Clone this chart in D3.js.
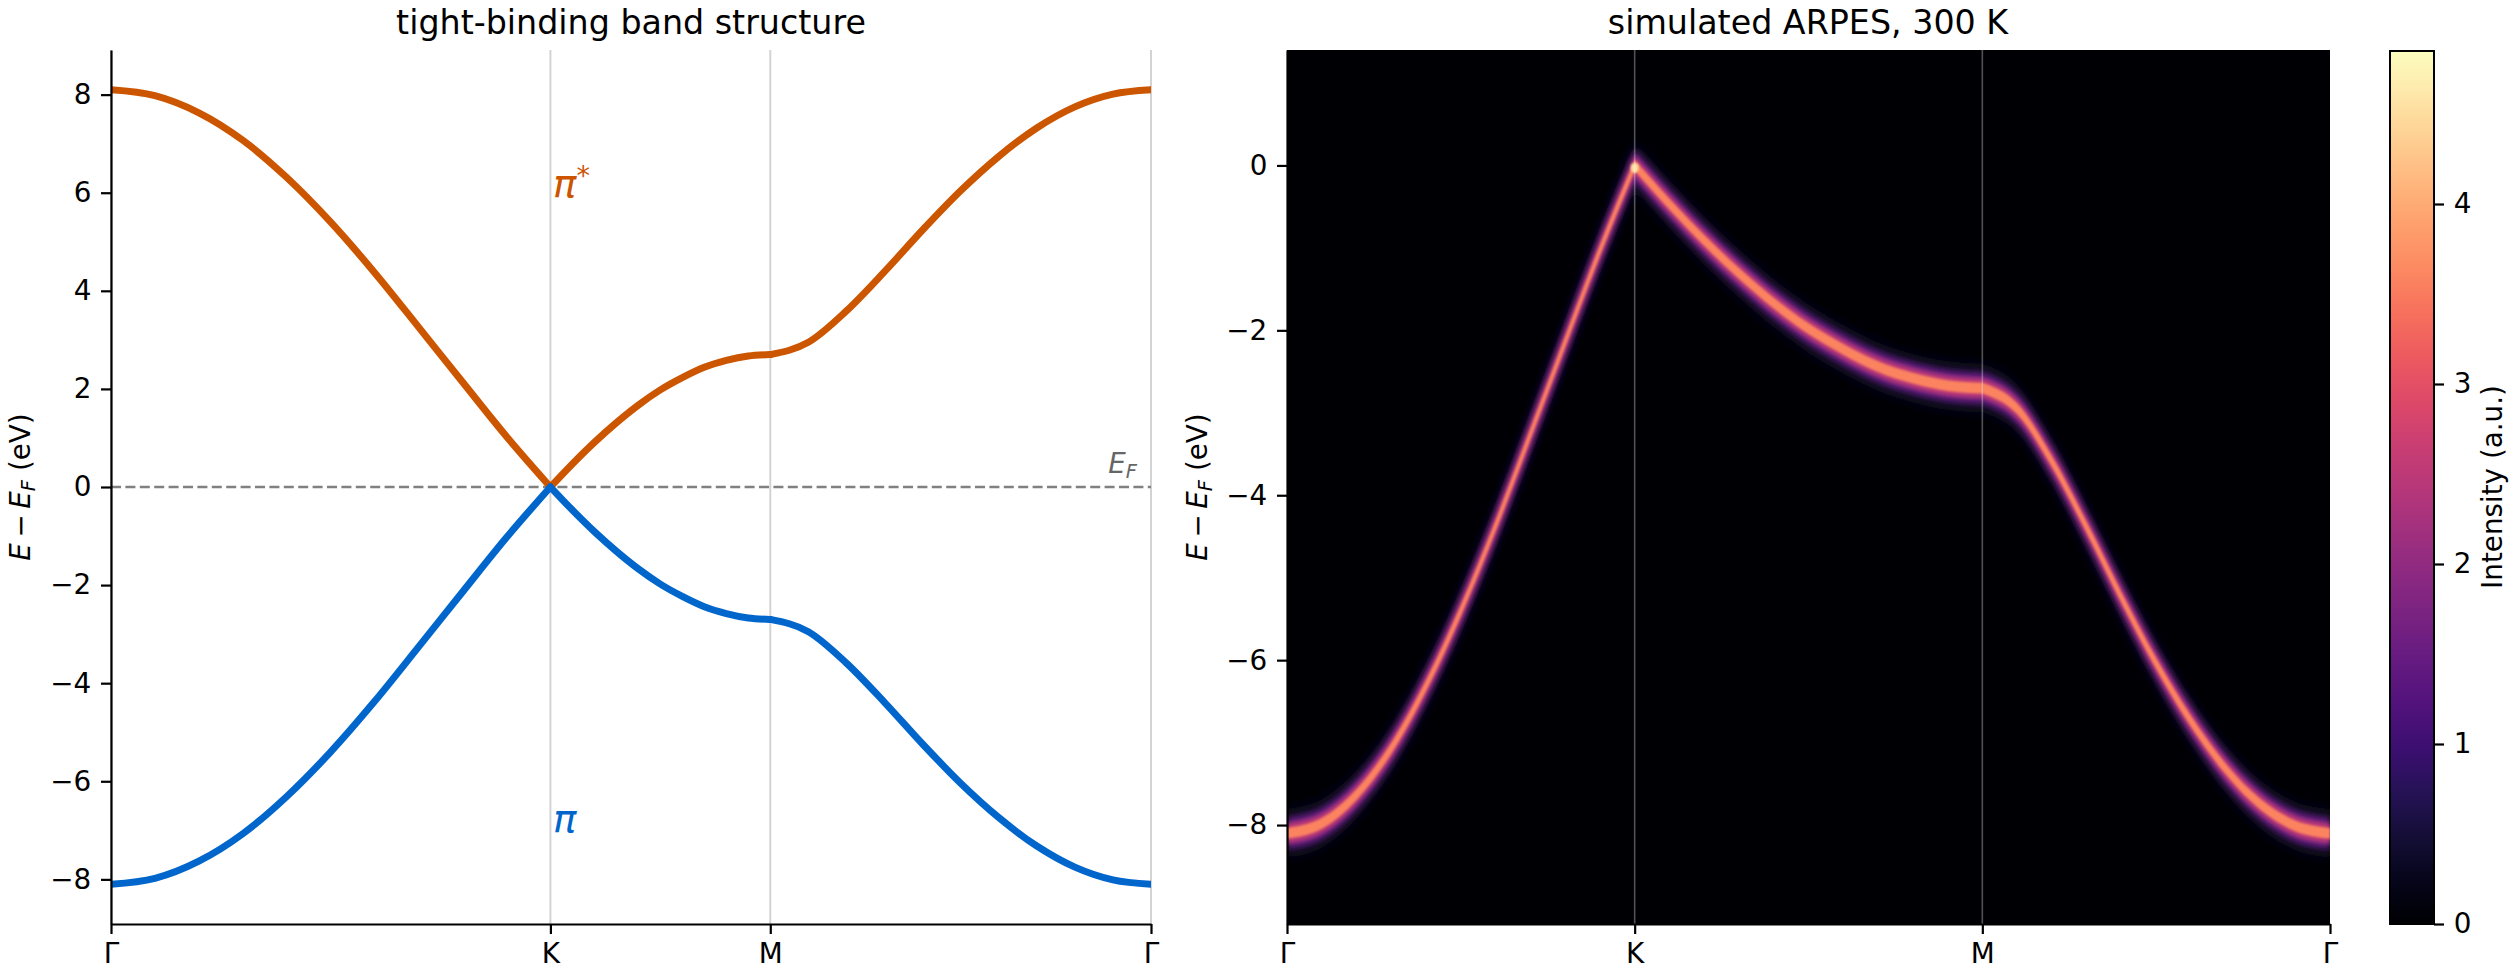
<!DOCTYPE html>
<html>
<head>
<meta charset="utf-8">
<script src="https://cdn.jsdelivr.net/npm/d3@7"></script>
<style>
  body { margin: 0; background: #fff; }
  svg { display: block; font-family: "DejaVu Sans", sans-serif; }
</style>
</head>
<body>
<svg id="fig" width="2520" height="980"></svg>
<script>
const kFrac = [0, 0.1, 0.2, 0.3, 0.4, 0.5, 0.6, 0.7, 0.8, 0.9, 1];
// |E| (eV) of the pi / pi* bands on each leg
const bandGK = [8.10, 7.98, 7.63, 7.07, 6.31, 5.40, 4.37, 3.26, 2.14, 1.03, 0.00];
const bandKM = [0.00, 0.47, 0.91, 1.31, 1.67, 1.98, 2.23, 2.44, 2.58, 2.67, 2.70];
const bandMG = [2.70, 2.95, 3.59, 4.39, 5.24, 6.04, 6.74, 7.32, 7.75, 8.01, 8.10];
// path length of each leg (Γ-K, K-M, M-Γ) for the left panel
const legLength = [1.333, 0.667, 1.155];
const symLabels = ["Γ", "K", "M", "Γ"];
const bandTicks = [-8, -6, -4, -2, 0, 2, 4, 6, 8];
const arpesTicks = [-8, -6, -4, -2, 0];
const cbarTicks = [0, 1, 2, 3, 4];
const cbarMax = 4.85;

const FS = 27.8; // 10pt
const svg = d3.select("#fig");
const legs = [bandGK, bandKM, bandMG];

// ---------- left panel: band structure ----------
const symPos = [0];
legLength.forEach((l, i) => symPos.push(symPos[i] + l));

const xL = d3.scaleLinear().domain([0, symPos[3]]).range([111, 1151]);
const yL = d3.scaleLinear().domain([-8.91, 8.91]).range([924, 50]);

const left = svg.append("g");
left.append("clipPath").attr("id", "clipL")
  .append("rect").attr("x", 111).attr("y", 50).attr("width", 1040).attr("height", 874);

left.selectAll("line.vl").data(symPos).enter().append("line")
  .attr("x1", d => xL(d)).attr("x2", d => xL(d))
  .attr("y1", 50).attr("y2", 924)
  .attr("stroke", "#d3d3d3").attr("stroke-width", 2);

left.append("line")
  .attr("x1", xL(0)).attr("x2", xL(symPos[3]))
  .attr("y1", yL(0)).attr("y2", yL(0))
  .attr("stroke", "#808080").attr("stroke-width", 2.6)
  .attr("stroke-dasharray", "10,4.4");

const lineL = d3.line().x(d => xL(d.k)).y(d => yL(d.e)).curve(d3.curveMonotoneX);
const legPts = (i, sign) => kFrac.map((f, j) => ({ k: symPos[i] + f * legLength[i], e: sign * legs[i][j] }));

[[1, "#cc5500"], [-1, "#0066cc"]].forEach(([sign, col]) => {
  legs.forEach((_, i) => {
    left.append("path")
      .attr("clip-path", "url(#clipL)")
      .attr("d", lineL(legPts(i, sign)))
      .attr("fill", "none").attr("stroke", col)
      .attr("stroke-width", 7).attr("stroke-linecap", "round").attr("stroke-linejoin", "round");
  });
});

const axL = left.append("g").attr("transform", "translate(111,0)")
  .call(d3.axisLeft(yL).tickValues(bandTicks).tickSize(10).tickSizeOuter(0).tickPadding(9.7).tickFormat(d3.format("d")));
const axLB = left.append("g").attr("transform", "translate(0,924)")
  .call(d3.axisBottom(xL).tickValues(symPos).tickSize(10).tickSizeOuter(0).tickPadding(9.7).tickFormat((d, i) => symLabels[i]));

// band labels
const piStar = left.append("text").attr("x", 553).attr("y", 197)
  .attr("font-size", 38.9).attr("fill", "#cc5500");
piStar.append("tspan").attr("font-style", "italic").text("π");
piStar.append("tspan").attr("font-size", 27).attr("dy", -12).text("*");
left.append("text").attr("x", 553).attr("y", 832)
  .attr("font-size", 38.9).attr("fill", "#0066cc").attr("font-style", "italic").text("π");

const ef = left.append("text").attr("x", 1137).attr("y", 473)
  .attr("text-anchor", "end").attr("font-size", FS).attr("fill", "#666");
ef.append("tspan").attr("font-style", "italic").text("E");
ef.append("tspan").attr("font-style", "italic").attr("font-size", FS * 0.7).attr("dy", 5).text("F");

left.append("text").attr("x", 631).attr("y", 34).attr("text-anchor", "middle")
  .attr("font-size", 33.3).text("tight-binding band structure");

function energyLabel(g, x) {
  const t = g.append("text").attr("transform", `translate(${x},487) rotate(-90)`)
    .attr("text-anchor", "middle").attr("font-size", FS);
  t.append("tspan").attr("font-style", "italic").text("E");
  t.append("tspan").text("\u2009−\u2009");
  t.append("tspan").attr("font-style", "italic").text("E");
  t.append("tspan").attr("font-style", "italic").attr("font-size", FS * 0.7).attr("dy", 5).text("F");
  t.append("tspan").attr("dy", -5).text(" (eV)");
}
energyLabel(left, 30);

// ---------- right panel: simulated ARPES ----------
const xR = d3.scaleLinear().domain([0, 3]).range([1287, 2330]);
const yR = d3.scaleLinear().domain([-9.2, 1.4]).range([924, 50]);
const cmap = d3.interpolateMagma;

const right = svg.append("g");
const defs = svg.append("defs");
defs.append("clipPath").attr("id", "clipR")
  .append("rect").attr("x", 1287).attr("y", 50).attr("width", 1043).attr("height", 874);
[["b1", 1.1], ["b2", 2], ["b3", 3.2], ["b4", 6]].forEach(([id, s]) => {
  defs.append("filter").attr("id", id).attr("x", "-20%").attr("y", "-20%").attr("width", "140%").attr("height", "140%")
    .append("feGaussianBlur").attr("stdDeviation", s);
});

const img = right.append("g").attr("clip-path", "url(#clipR)");
img.append("rect").attr("x", 1287).attr("y", 50).attr("width", 1043).attr("height", 874).attr("fill", cmap(0));

const arpesPts = i => kFrac.map((f, j) => ({ k: i + f, e: -legs[i][j] }));
// glow layers: half-width in eV, colour position on the map, blur
const layers = [[0.3, 0.06, "b4"], [0.19, 0.3, "b3"], [0.12, 0.52, "b2"], [0.065, 0.74, "b1"]];
layers.forEach(([w, c, b]) => {
  const area = d3.area().x(d => xR(d.k)).y0(d => yR(d.e - w)).y1(d => yR(d.e + w)).curve(d3.curveMonotoneX);
  const g = img.append("g").attr("filter", `url(#${b})`);
  legs.forEach((_, i) => g.append("path").attr("d", area(arpesPts(i))).attr("fill", cmap(c)));
});
img.append("ellipse").attr("cx", xR(1)).attr("cy", yR(-bandGK[10] - 0.03))
  .attr("rx", 4).attr("ry", 5).attr("fill", cmap(0.93)).attr("filter", "url(#b1)");

img.selectAll("line.vr").data([1, 2]).enter().append("line")
  .attr("x1", d => xR(d)).attr("x2", d => xR(d)).attr("y1", 50).attr("y2", 924)
  .attr("stroke", "rgba(255,255,255,0.32)").attr("stroke-width", 1.6);

const axR = right.append("g").attr("transform", "translate(1287,0)")
  .call(d3.axisLeft(yR).tickValues(arpesTicks).tickSize(10).tickSizeOuter(0).tickPadding(9.7).tickFormat(d3.format("d")));
const axRB = right.append("g").attr("transform", "translate(0,924)")
  .call(d3.axisBottom(xR).tickValues([0, 1, 2, 3]).tickSize(10).tickSizeOuter(0).tickPadding(9.7).tickFormat((d, i) => symLabels[i]));

right.append("text").attr("x", 1808).attr("y", 34).attr("text-anchor", "middle")
  .attr("font-size", 33.3).text("simulated ARPES, 300 K");
energyLabel(right, 1207);

// ---------- colorbar ----------
const grad = defs.append("linearGradient").attr("id", "magma")
  .attr("x1", 0).attr("y1", 1).attr("x2", 0).attr("y2", 0);
d3.range(0, 1.0001, 0.05).forEach(t => grad.append("stop").attr("offset", t).attr("stop-color", cmap(t)));

const yC = d3.scaleLinear().domain([0, cbarMax]).range([924, 51]);
right.append("rect").attr("x", 2390).attr("y", 51).attr("width", 44).attr("height", 873)
  .attr("fill", "url(#magma)").attr("stroke", "#000").attr("stroke-width", 2);
const axC = right.append("g").attr("transform", "translate(2434,0)")
  .call(d3.axisRight(yC).tickValues(cbarTicks).tickSize(10).tickSizeOuter(0).tickPadding(9.7).tickFormat(d3.format("d")));
axC.select("path.domain").remove();
right.append("text").attr("transform", "translate(2502,487) rotate(-90)")
  .attr("text-anchor", "middle").attr("font-size", FS).text("Intensity (a.u.)");

// axis styling
[axL, axLB, axR, axRB, axC].forEach(g => {
  g.attr("font-size", FS).attr("font-family", "DejaVu Sans, sans-serif");
  g.selectAll("path.domain").attr("stroke-width", 2.2);
  g.selectAll(".tick line").attr("stroke-width", 2.2);
  g.selectAll(".tick text").attr("fill", "#000");
});
</script>
</body>
</html>
